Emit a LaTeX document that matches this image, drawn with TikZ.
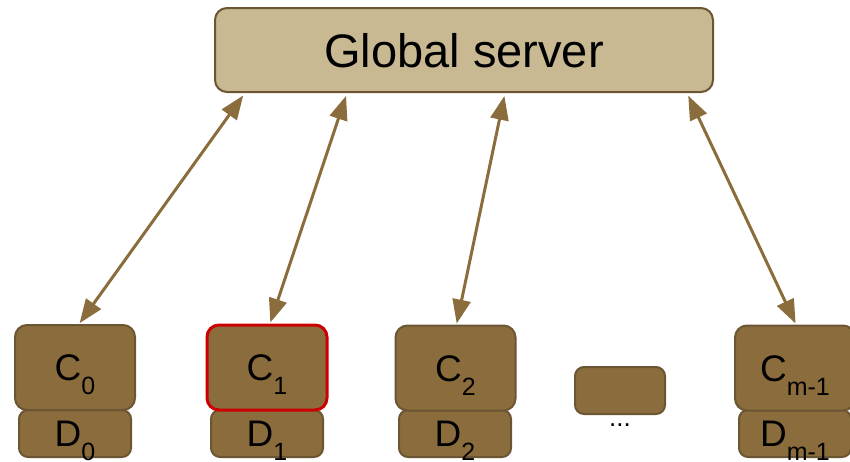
\documentclass[tikz,border=0pt]{standalone}
\usepackage{fontspec}
\setmainfont{Liberation Sans}
\usetikzlibrary{arrows.meta}
\definecolor{srvfill}{HTML}{C8B992}
\definecolor{boxfill}{HTML}{8B6D3D}
\definecolor{boxline}{HTML}{6B5533}
\definecolor{redline}{HTML}{CC0000}
\newcommand{\subidx}[1]{\raisebox{-14pt}{\fontsize{25}{25}\selectfont #1}}
\begin{document}
\begin{tikzpicture}[x=1pt, y=-1pt, line join=round, line cap=round,
	>={Triangle[length=24pt,width=18pt]},
	srvbox/.style={draw=boxline, fill=srvfill, line width=2pt, rounded corners=12pt,
		minimum width=498pt, minimum height=84pt, inner sep=0pt,
		text height=34pt, text depth=0pt, font=\fontsize{47}{47}\selectfont},
	cbox/.style={draw=boxline, fill=boxfill, line width=2pt, rounded corners=12pt,
		minimum width=120pt, minimum height=85pt, inner sep=0pt,
		text height=26pt, text depth=0pt, font=\fontsize{37}{37}\selectfont},
	dbox/.style={cbox, rounded corners=9pt, minimum width=112pt, minimum height=47pt},
	conn/.style={<->, draw=boxfill, line width=3pt, shorten <=3pt, shorten >=1pt}]
	\useasboundingbox (0,0) rectangle (850,461);
	% server
	\node[srvbox] (srv) at (464,50) {Global server};
	% clients and their data
	\node[dbox] (d0) at (75,433.5) {D\subidx{0}};
	\node[dbox] (d1) at (267,433.5) {D\subidx{1}};
	\node[dbox] (d2) at (455,433.5) {D\subidx{2}};
	\node[dbox] (dm) at (795,433.5) {D\subidx{m-1}};
	\node[cbox] (c0) at (75,367.5) {C\subidx{0}};
	\node[cbox, draw=redline, line width=3pt] (c1) at (267,367.5) {C\subidx{1}};
	\node[cbox] (c2) at (455.5,368) {C\subidx{2}};
	\node[cbox] (cm) at (795,368) {C\subidx{m-1}};
	\node[cbox, rounded corners=9pt, minimum width=90pt, minimum height=47pt,
		label={[label distance=7pt, inner sep=0pt, text height=4pt, text depth=0pt,
		font=\fontsize{26}{26}\selectfont]below:...}] (dots) at (620,390.5) {};
	% links
	\foreach \c/\t/\b in {c0/31/4, c1/133/3, c2/291/1, cm/473/1}
		\draw[conn] ([xshift=\t pt]srv.south west) -- ([xshift=\b pt]\c.north);
\end{tikzpicture}
\end{document}
